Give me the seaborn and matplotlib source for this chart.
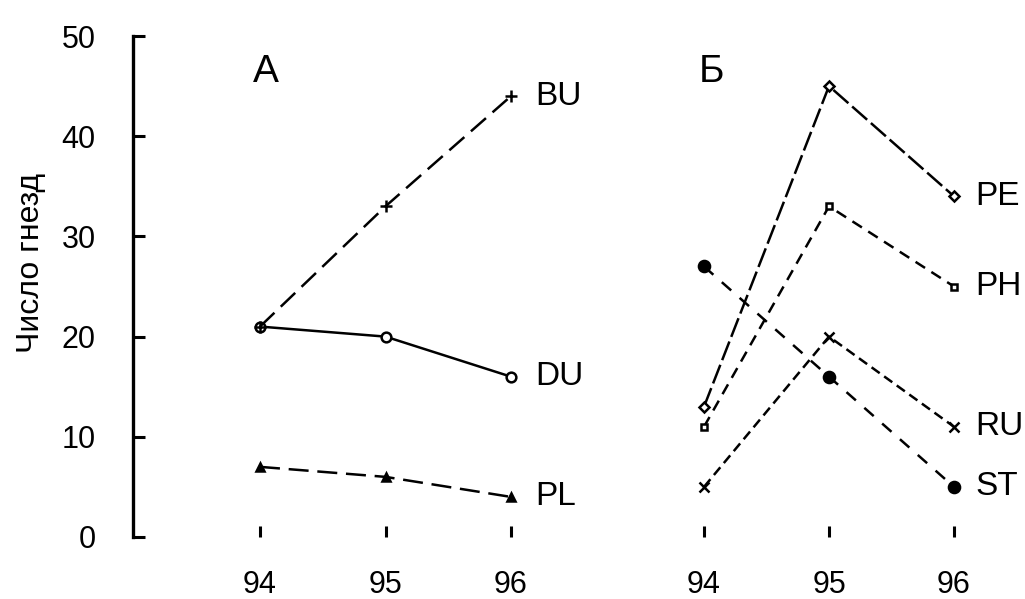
"""Nest counts per species, panels A and Б, years 94-96."""
import matplotlib
matplotlib.use("Agg")
import matplotlib.pyplot as plt
import pandas as pd
import seaborn as sns

YEARS = [94, 95, 96]

# panel A
BU = [21, 33, 44]
DU = [21, 20, 16]
PL = [7, 6, 4]
# panel Б
PE = [13, 45, 34]
PH = [11, 33, 25]
RU = [5, 20, 11]
ST = [27, 16, 5]

Y_LABEL = "Число гнезд"
PANEL_A = "А"
PANEL_B = "Б"

# name -> (values, dash pattern, marker, filled, marker size)
STYLE_A = {
    "DU": (DU, "", "o", False, 7),
    "BU": (BU, (8, 3.5), "+", True, 9),
    "PL": (PL, (8, 3.5), "^", True, 6),
}
STYLE_B = {
    "PE": (PE, (8, 2), "D", False, 5.5),
    "PH": (PH, (4.5, 3), "s", False, 5),
    "RU": (RU, (4, 2.2), "x", True, 6.5),
    "ST": (ST, (5, 4.5), "o", True, 8),
}

sns.set_theme(style="white")
plt.rcParams["font.family"] = ["Liberation Sans", "DejaVu Sans"]
plt.rcParams.update({"text.color": "black", "xtick.color": "black",
                     "ytick.color": "black"})


def draw_panel(ax, styles, label_x):
    for name, (vals, dash, marker, filled, ms) in styles.items():
        df = pd.DataFrame({"year": YEARS, "n": vals})
        sns.lineplot(
            data=df, x="year", y="n", ax=ax, color="black", linewidth=1.8,
            marker=marker, markersize=ms,
            markerfacecolor="black" if filled else "white",
            markeredgecolor="black", markeredgewidth=1.8,
        )
        if dash:
            ax.lines[-1].set_dashes(dash)
        ax.text(label_x, vals[-1], name, fontsize=24, va="center", ha="left",
                clip_on=False)
    ax.set_ylim(0, 50)
    ax.set_xticks(YEARS)
    ax.set_xticklabels([str(y) for y in YEARS])
    ax.set_xlabel("")
    ax.set_ylabel("")
    ax.tick_params(axis="x", direction="in", length=8, width=2.2,
                   pad=24, labelsize=22, bottom=True)
    for s in ("top", "right", "bottom"):
        ax.spines[s].set_visible(False)


fig = plt.figure(figsize=(10.25, 5.99), dpi=100)
bottom = 62 / 599
height = 501 / 599
ax_a = fig.add_axes([133 / 1025, bottom, 487 / 1025, height])
ax_b = fig.add_axes([640 / 1025, bottom, 385 / 1025, height], sharey=ax_a)

draw_panel(ax_a, STYLE_A, 96.19)
draw_panel(ax_b, STYLE_B, 96.17)

ax_a.set_xlim(94 - 127 / 125.5, 96 + 109 / 125.5)
ax_b.set_xlim(94 - 64 / 125, 96 + 71 / 125)

ax_a.spines["left"].set_linewidth(2.4)
ax_a.spines["left"].set_color("black")
ax_a.set_yticks([0, 10, 20, 30, 40, 50])
ax_a.tick_params(axis="y", direction="in", length=8.5, width=2.2,
                 pad=27, labelsize=22, left=True)
ax_b.spines["left"].set_visible(False)
ax_b.tick_params(axis="y", left=False, labelleft=False)

ax_a.text(94.05, 46.4, PANEL_A, fontsize=28, ha="center", va="center")
ax_b.text(94.06, 46.4, PANEL_B, fontsize=28, ha="center", va="center")

fig.text(31 / 1025, 1 - 263 / 599, Y_LABEL, rotation=90, fontsize=23,
         ha="center", va="center")

fig.savefig("out.png", dpi=100)
